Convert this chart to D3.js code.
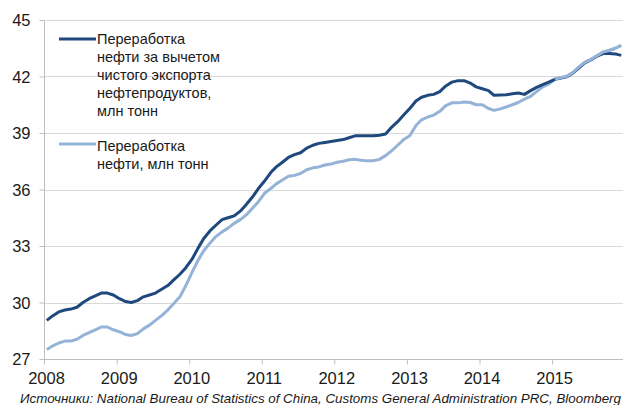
<!DOCTYPE html>
<html>
<head>
<meta charset="utf-8">
<script src="https://cdn.jsdelivr.net/npm/d3@7"></script>
<style>
  body { margin: 0; background: #fff; }
  text { font-family: "Liberation Sans", Arial, sans-serif; fill: #1a1a1a; }
</style>
</head>
<body>
<div id="chart"></div>
<script>
// monthly data, Jan 2008 - Dec 2015
var startMonth = "2008-01";
// refining net of product exports, mln t
var netRefining = [
  29.05, 29.3, 29.5, 29.6, 29.65, 29.75, 30.0, 30.2, 30.35, 30.5, 30.5, 30.4,
  30.2, 30.05, 30.0, 30.1, 30.3, 30.4, 30.5, 30.7, 30.9, 31.2, 31.5, 31.85,
  32.3, 32.9, 33.4, 33.8, 34.1, 34.4, 34.5, 34.6, 34.85, 35.2, 35.6, 36.05,
  36.45, 36.9, 37.2, 37.45, 37.7, 37.85, 37.95, 38.2, 38.35, 38.45, 38.5, 38.55,
  38.6, 38.65, 38.75, 38.85, 38.85, 38.85, 38.85, 38.88, 38.95, 39.3, 39.6, 39.95,
  40.3, 40.7, 40.9, 41.0, 41.05, 41.2, 41.5, 41.7, 41.78, 41.78, 41.65, 41.45,
  41.35, 41.25, 41.0, 41.02, 41.03, 41.08, 41.12, 41.05, 41.25, 41.42, 41.57, 41.7,
  41.85, 41.92, 41.98, 42.18, 42.45, 42.72, 42.88, 43.08, 43.22, 43.22, 43.2, 43.12
];
// crude oil refining, mln t
var refining = [
  27.5, 27.7, 27.85, 27.95, 27.95, 28.05, 28.25, 28.4, 28.55, 28.7, 28.7, 28.55,
  28.45, 28.3, 28.25, 28.35, 28.6, 28.8, 29.05, 29.3, 29.6, 29.95, 30.3, 30.9,
  31.6, 32.25, 32.75, 33.15, 33.5, 33.75, 33.95, 34.2, 34.4, 34.65, 35.0, 35.35,
  35.8, 36.05, 36.3, 36.5, 36.7, 36.75, 36.85, 37.05, 37.15, 37.2, 37.3, 37.35,
  37.45, 37.5, 37.58, 37.6, 37.55, 37.52, 37.53, 37.6, 37.8, 38.05, 38.35, 38.65,
  38.85, 39.4, 39.7, 39.85, 39.95, 40.15, 40.45, 40.6, 40.6, 40.65, 40.62, 40.5,
  40.5, 40.3, 40.2, 40.28, 40.38, 40.5, 40.62, 40.8, 40.95, 41.2, 41.45, 41.6,
  41.85, 41.95, 42.0, 42.2, 42.5, 42.75, 42.9, 43.1, 43.3, 43.38, 43.5, 43.65
];
var yTicks = [27, 30, 33, 36, 39, 42, 45];
var xYears = [2008, 2009, 2010, 2011, 2012, 2013, 2014, 2015];
var legendNet = ["Переработка", "нефти за вычетом", "чистого экспорта", "нефтепродуктов,", "млн тонн"];
var legendRef = ["Переработка", "нефти, млн тонн"];
var source = "Источники: National Bureau of Statistics of China, Customs General Administration PRC, Bloomberg";

var W = 623, H = 405;
var margin = {top: 20, right: 0, bottom: 46, left: 44},
    width = W - margin.left - margin.right,
    height = H - margin.top - margin.bottom;

var svg = d3.select("#chart").append("svg")
    .attr("width", W)
    .attr("height", H);
var g = svg.append("g")
    .attr("transform", "translate(" + margin.left + "," + margin.top + ")");

// points sit mid-month
var parse = d3.timeParse("%Y-%m");
var months = netRefining.map(function(d, i) {
  return d3.timeDay.offset(d3.timeMonth.offset(parse(startMonth), i), 14);
});

var x = d3.scaleTime()
    .domain([new Date(2008, 0, 1), new Date(2016, 0, 1)])
    .range([0, 580.6]);
var y = d3.scaleLinear()
    .domain([27, 45])
    .range([height, 0]);

// grid
g.append("g")
  .selectAll("line")
  .data(yTicks.slice(1))
  .enter().append("line")
    .attr("x1", 0).attr("x2", width)
    .attr("y1", function(d) { return Math.round(y(d)) + 0.5; })
    .attr("y2", function(d) { return Math.round(y(d)) + 0.5; })
    .attr("stroke", "#d9d9d9")
    .attr("stroke-width", 1);

// y axis
var yAxis = g.append("g")
    .attr("transform", "translate(0.5,0)")
    .call(d3.axisLeft(y).tickValues(yTicks).tickSize(5).tickPadding(9).tickFormat(d3.format("d")));
yAxis.select(".domain").attr("stroke", "#bfbfbf").attr("d", "M0," + height + "V0");
yAxis.selectAll(".tick line").attr("stroke", "#bfbfbf");
yAxis.selectAll(".tick text").style("font-size", "16.5px").attr("fill", "#1a1a1a").attr("dy", "0.36em");

// x axis
var xAxis = g.append("g")
    .attr("transform", "translate(0," + (Math.round(height) + 0.5) + ")")
    .call(d3.axisBottom(x)
      .tickValues(xYears.map(function(yr) { return new Date(yr, 0, 1); }))
      .tickSize(5).tickPadding(8).tickFormat(d3.timeFormat("%Y")));
xAxis.select(".domain").attr("stroke", "#bfbfbf").attr("d", "M0,0H" + width);
xAxis.selectAll(".tick line").attr("stroke", "#bfbfbf");
xAxis.selectAll(".tick text").style("font-size", "16.5px").attr("fill", "#1a1a1a").attr("x", 2);

var line = d3.line()
    .x(function(d, i) { return x(months[i]); })
    .y(function(d) { return y(d); });

g.append("path")
  .datum(refining)
  .attr("fill", "none")
  .attr("stroke", "#95b3d7")
  .attr("stroke-width", 3)
  .attr("stroke-linejoin", "round")
  .attr("d", line);

g.append("path")
  .datum(netRefining)
  .attr("fill", "none")
  .attr("stroke", "#1f497d")
  .attr("stroke-width", 3)
  .attr("stroke-linejoin", "round")
  .attr("d", line);

// the light series overlaps the dark one at the end of 2015
g.append("path")
  .datum(refining.slice(84))
  .attr("fill", "none")
  .attr("stroke", "#95b3d7")
  .attr("stroke-width", 3)
  .attr("stroke-linejoin", "round")
  .attr("d", d3.line()
    .x(function(d, i) { return x(months[i + 84]); })
    .y(function(d) { return y(d); }));

// legend
function legendItem(lines, color, ly, ty) {
  svg.append("line")
    .attr("x1", 59).attr("x2", 96)
    .attr("y1", ly).attr("y2", ly)
    .attr("stroke", color)
    .attr("stroke-width", 3);
  svg.append("text")
    .attr("x", 97).attr("y", ty)
    .style("font-size", "14.5px")
    .selectAll("tspan")
    .data(lines)
    .enter().append("tspan")
      .attr("x", 97)
      .attr("dy", function(d, i) { return i === 0 ? 0 : 18.2; })
      .text(function(d) { return d; });
}
legendItem(legendNet, "#1f497d", 39, 43.5);
legendItem(legendRef, "#95b3d7", 144, 150.5);

// source
svg.append("text")
  .attr("x", 20).attr("y", 403)
  .style("font-size", "13px")
  .style("font-style", "italic")
  .attr("textLength", 601)
  .attr("lengthAdjust", "spacingAndGlyphs")
  .text(source);
</script>
</body>
</html>
